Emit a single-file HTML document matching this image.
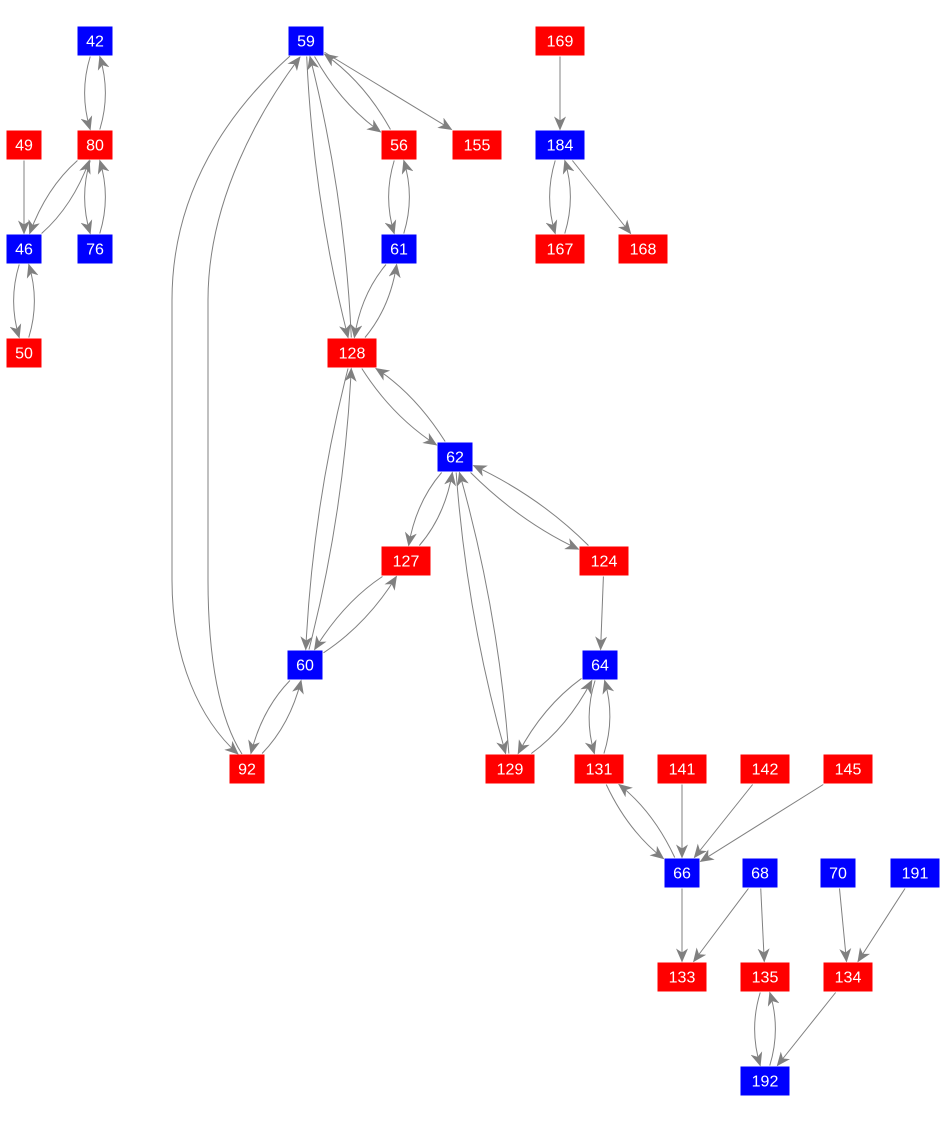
<!DOCTYPE html>
<html><head><meta charset="utf-8"><style>
html,body{margin:0;padding:0;background:#fff;}
svg{display:block;}
text{font-family:"Liberation Sans",Arial,sans-serif;font-size:16px;fill:#fff;text-anchor:middle;dominant-baseline:central;}
</style></head><body>
<svg id="g" width="950" height="1121" xmlns="http://www.w3.org/2000/svg">
<defs><marker id="a" markerWidth="14" markerHeight="12" refX="13" refY="6" orient="auto" markerUnits="userSpaceOnUse"><path d="M0,0 L14,6 L0,12 L4,6 z" fill="#808080"/></marker></defs>
<g id="e" fill="none" stroke="#808080" stroke-width="1"></g>
<g id="n"></g>
</svg>
<script>
var N={42:[95,41,'b'],59:[306,41,'b'],169:[560,41,'r'],
49:[24,145,'r'],80:[95,145,'r'],56:[399,145,'r'],155:[477,145,'r'],184:[560,145,'b'],
46:[24,249,'b'],76:[95,249,'b'],61:[399,249,'b'],167:[560,249,'r'],168:[643,249,'r'],
50:[24,353,'r'],128:[352,353,'r'],62:[455,457,'b'],127:[406,561,'r'],124:[604,561,'r'],
60:[305,665,'b'],64:[600,665,'b'],92:[247,769,'r'],129:[510,769,'r'],131:[599,769,'r'],
141:[682,769,'r'],142:[765,769,'r'],145:[848,769,'r'],66:[682,873,'b'],68:[760,873,'b'],
70:[838,873,'b'],191:[915,873,'b'],133:[682,977,'r'],135:[765,977,'r'],134:[848,977,'r'],192:[765,1081,'b']};
function W(k){return String(k).length>2?49:35;}
var E=[[42,80,1],[80,42,1],[49,46,0],[80,46,1],[46,80,1],[80,76,1],[76,80,1],[46,50,1],[50,46,1],
[59,56,1],[56,59,1],[59,155,0],[59,128,1],[128,59,1],[56,61,1],[61,56,1],[61,128,1],[128,61,1],
[128,62,1],[62,128,1],[128,60,1],[60,128,1],[62,127,1],[127,62,1],[62,124,1],[124,62,1],[62,129,1],[129,62,1],
[127,60,1],[60,127,1],[60,92,1],[92,60,1],[124,64,0],[64,129,1],[129,64,1],[64,131,1],[131,64,1],
[131,66,1],[66,131,1],[141,66,0],[142,66,0],[145,66,0],[169,184,0],[184,167,1],[167,184,1],[184,168,0],
[66,133,0],[68,133,0],[68,135,0],[70,134,0],[191,134,0],[134,192,0],[135,192,1],[192,135,1]];
function clip(k,px,py){var c=N[k],dx=px-c[0],dy=py-c[1],hw=W(k)/2+1,hh=15.5;
var t=Math.min(dx?hw/Math.abs(dx):1e9,dy?hh/Math.abs(dy):1e9);return [c[0]+dx*t,c[1]+dy*t];}
var eg=document.getElementById('e'),s='';
E.forEach(function(e){var a=N[e[0]],b=N[e[1]],mx=(a[0]+b[0])/2,my=(a[1]+b[1])/2,dx=b[0]-a[0],dy=b[1]-a[1],L=Math.hypot(dx,dy);
var off=e[2]?8:0,cx=mx+(-dy/L)*off*2,cy=my+(dx/L)*off*2;
var p=clip(e[0],cx,cy),q=clip(e[1],cx,cy);
s+='<path d="M'+p[0]+','+p[1]+' Q'+cx+','+cy+' '+q[0]+','+q[1]+'" marker-end="url(#a)"/>';});
s+='<path d="M290,56 C230,110 172,190 172,300 L172,580 C172,660 200,720 238,754" marker-end="url(#a)"/>';
s+='<path d="M242,754 C220,720 208,660 208,580 L208,300 C208,200 260,110 300,57" marker-end="url(#a)"/>';
eg.innerHTML=s;
var ng='';for(var k in N){var c=N[k],w=W(k);ng+='<rect x="'+(c[0]-w/2)+'" y="'+(c[1]-14.5)+'" width="'+w+'" height="29" fill="'+(c[2]=='b'?'#0000ff':'#ff0000')+'"/><text x="'+c[0]+'" y="'+(c[1]+1)+'">'+k+'</text>';}
document.getElementById('n').innerHTML=ng;
</script>
</body></html>
